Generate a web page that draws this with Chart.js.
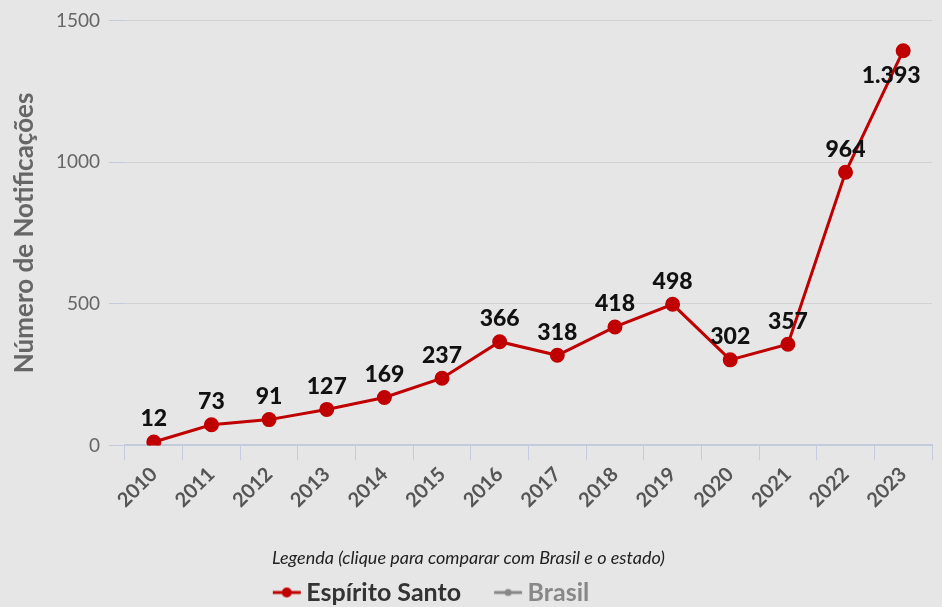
<!DOCTYPE html>
<html lang="pt-BR">
<head>
<meta charset="utf-8">
<title>Notificações - Espírito Santo</title>
<script src="https://cdn.jsdelivr.net/npm/chart.js@4.4.1/dist/chart.umd.min.js"></script>
<style>
    html, body { margin: 0; padding: 0; background: #e6e6e6; overflow: hidden; }
    #wrap { width: 942px; height: 615px; position: relative; }
</style>
</head>
<body>
<div id="wrap"><canvas id="grafico"></canvas></div>
<script>
'use strict';

// ── Dados ─────────────────────────────────────────────
const anos = ['2010', '2011', '2012', '2013', '2014', '2015', '2016', '2017', '2018', '2019', '2020', '2021', '2022', '2023'];
const notificacoesES = [12, 73, 91, 127, 169, 237, 366, 318, 418, 498, 302, 357, 964, 1393];
const notificacoesBrasil = []; // série oculta no gráfico original
const ticksY = [0, 500, 1000, 1500];

const VERMELHO = '#c00000';
const FONTE = 'Lato, "Open Sans", sans-serif';

// ícone da legenda: linha com ponto (deslocado à direita dentro do canvas)
function iconeLegenda(cor, raio) {
    const c = document.createElement('canvas');
    c.width = 60;
    c.height = 14;
    const ctx = c.getContext('2d');
    ctx.strokeStyle = cor;
    ctx.lineWidth = 3;
    ctx.beginPath();
    ctx.moveTo(30, 7);
    ctx.lineTo(58, 7);
    ctx.stroke();
    ctx.fillStyle = cor;
    ctx.beginPath();
    ctx.arc(44, 7, raio, 0, Math.PI * 2);
    ctx.fill();
    return c;
}

// rótulos de valor sobre os pontos
const rotulosValor = {
    id: 'rotulosValor',
    afterDatasetsDraw(chart) {
        if (!chart.isDatasetVisible(0)) return;
        const meta = chart.getDatasetMeta(0);
        const ctx = chart.ctx;
        const dados = chart.data.datasets[0].data;
        ctx.save();
        ctx.font = `900 23px ${FONTE}`;
        ctx.fillStyle = '#111';
        ctx.textAlign = 'center';
        ctx.textBaseline = 'middle';
        meta.data.forEach((pt, i) => {
            const txt = dados[i].toLocaleString('pt-BR');
            // o último valor fica abaixo do ponto, senão sai do gráfico
            if (i === dados.length - 1) {
                ctx.fillText(txt, pt.x - 12, pt.y + 25);
            } else {
                ctx.fillText(txt, pt.x, pt.y - 23);
            }
        });
        ctx.restore();
    }
};

// itens da legenda um pouco à esquerda do centro, como no original
const legendaDeslocada = {
    id: 'legendaDeslocada',
    afterLayout(chart) {
        const leg = chart.legend;
        if (leg && leg.lineWidths && leg.lineWidths.length) leg.lineWidths[0] += 96;
    }
};

new Chart(document.getElementById('grafico').getContext('2d'), {
    type: 'line',
    data: {
        labels: anos,
        datasets: [
            {
                label: 'Espírito Santo',
                data: notificacoesES,
                borderColor: VERMELHO,
                backgroundColor: VERMELHO,
                borderWidth: 3,
                pointRadius: 6,
                pointHoverRadius: 7,
                tension: 0
            },
            {
                label: 'Brasil',
                data: notificacoesBrasil,
                borderColor: '#888',
                backgroundColor: '#888',
                hidden: true
            }
        ]
    },
    options: {
        responsive: true,
        maintainAspectRatio: false,
        animation: false,
        layout: { padding: { top: 4, right: 5, left: 0, bottom: 0 } },
        scales: {
            x: {
                offset: true,
                grid: {
                    drawOnChartArea: false,
                    color: '#c3cbdd',
                    tickLength: 15,
                    offset: true
                },
                border: { color: '#c3cbdd', width: 2 },
                ticks: {
                    minRotation: 45,
                    maxRotation: 45,
                    padding: 2,
                    color: '#555',
                    font: { family: FONTE, size: 20, weight: 'bold' }
                },
                afterFit(scale) { scale.height = 98; }
            },
            y: {
                min: 0,
                max: 1500,
                afterBuildTicks(scale) { scale.ticks = ticksY.map(v => ({ value: v })); },
                grid: {
                    color: '#d2d2d6',
                    tickColor: '#c3cbdd',
                    tickLength: 16
                },
                border: { display: false },
                ticks: {
                    padding: 9,
                    color: '#666',
                    font: { family: FONTE, size: 19 },
                    callback: (v) => String(v)
                },
                title: {
                    display: true,
                    text: 'Número de Notificações',
                    color: '#666',
                    padding: { top: 9, bottom: 4 },
                    font: { family: FONTE, size: 26, weight: 'bold' }
                },
                afterFit(scale) { scale.width = 125; }
            }
        },
        plugins: {
            tooltip: { enabled: true },
            legend: {
                position: 'bottom',
                title: {
                    display: true,
                    text: 'Legenda (clique para comparar com Brasil e o estado)',
                    color: '#222',
                    padding: { top: 6, bottom: -3 },
                    font: { family: FONTE, size: 18, style: 'italic' }
                },
                labels: {
                    usePointStyle: true,
                    pointStyleWidth: 42,
                    boxHeight: 14,
                    padding: 12,
                    font: { family: FONTE, size: 25, weight: 'bold' },
                    generateLabels(chart) {
                        return chart.data.datasets.map((ds, i) => {
                            const principal = i === 0;
                            return {
                                text: ds.label,
                                datasetIndex: i,
                                hidden: false,
                                fontColor: principal ? '#333' : '#888',
                                pointStyle: iconeLegenda(principal ? VERMELHO : '#888', principal ? 5 : 3.5),
                                lineWidth: 0,
                                strokeStyle: 'transparent',
                                fillStyle: 'transparent'
                            };
                        });
                    }
                }
            }
        }
    },
    plugins: [rotulosValor, legendaDeslocada]
});
</script>
</body>
</html>
